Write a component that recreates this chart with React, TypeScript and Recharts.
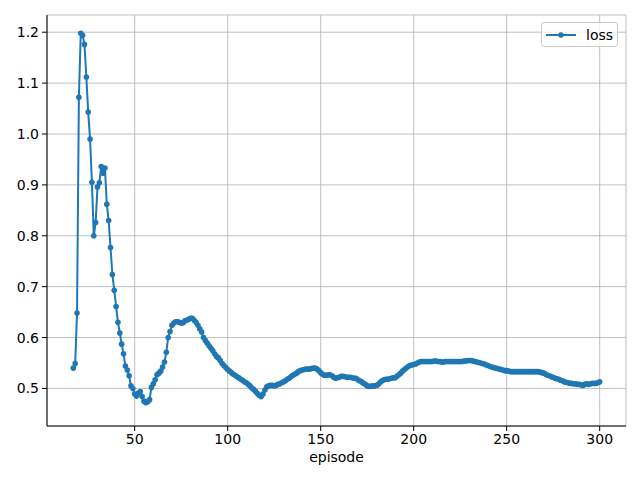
import React from "react";
import {
  CartesianGrid,
  Label,
  Line,
  LineChart,
  XAxis,
  YAxis,
} from "recharts";

// episodes 17..300, one loss value each
const FIRST_EPISODE = 17;
const loss = [
  0.54, 0.549, 0.648, 1.072, 1.198, 1.194, 1.176, 1.112, 1.043, 0.99,
  0.905, 0.8, 0.826, 0.896, 0.904, 0.936, 0.923, 0.933, 0.862, 0.83,
  0.777, 0.724, 0.693, 0.661, 0.63, 0.609, 0.587, 0.568, 0.544, 0.536,
  0.525, 0.505, 0.5, 0.489, 0.485, 0.491, 0.494, 0.484, 0.475, 0.472,
  0.474, 0.478, 0.502, 0.509, 0.517, 0.527, 0.53, 0.534, 0.542, 0.552,
  0.571, 0.6, 0.612, 0.624, 0.628, 0.631, 0.631, 0.63, 0.628, 0.629,
  0.633, 0.634, 0.636, 0.638, 0.638, 0.634, 0.63, 0.624, 0.617, 0.611,
  0.6, 0.594, 0.589, 0.584, 0.579, 0.574, 0.568, 0.563, 0.56, 0.555,
  0.549, 0.545, 0.541, 0.537, 0.534, 0.531, 0.528, 0.526, 0.523, 0.521,
  0.518, 0.516, 0.513, 0.511, 0.508, 0.505, 0.501, 0.498, 0.494, 0.49,
  0.486, 0.484, 0.489, 0.497, 0.503, 0.505, 0.506, 0.506, 0.505, 0.506,
  0.508, 0.509, 0.511, 0.513, 0.515, 0.518, 0.52, 0.523, 0.526, 0.528,
  0.53, 0.533, 0.535, 0.536, 0.537, 0.538, 0.538, 0.538, 0.539, 0.54,
  0.54, 0.538, 0.535, 0.531, 0.528, 0.526, 0.526, 0.527, 0.527, 0.525,
  0.522, 0.52, 0.521, 0.522, 0.524, 0.524, 0.523, 0.522, 0.522, 0.522,
  0.521, 0.52, 0.52, 0.517, 0.515, 0.513, 0.51, 0.508, 0.505, 0.504,
  0.504, 0.505, 0.505, 0.506, 0.508, 0.512, 0.515, 0.517, 0.518, 0.518,
  0.519, 0.52, 0.521, 0.521, 0.524, 0.527, 0.53, 0.534, 0.537, 0.54,
  0.543, 0.545, 0.546, 0.547, 0.548, 0.55, 0.552, 0.553, 0.553, 0.553,
  0.553, 0.553, 0.553, 0.553, 0.554, 0.554, 0.553, 0.553, 0.552, 0.552,
  0.553, 0.553, 0.553, 0.553, 0.553, 0.553, 0.553, 0.553, 0.553, 0.553,
  0.554, 0.554, 0.555, 0.555, 0.555, 0.554, 0.553, 0.552, 0.551, 0.55,
  0.549, 0.548, 0.546, 0.545, 0.543, 0.542, 0.541, 0.54, 0.539, 0.538,
  0.537, 0.536, 0.535, 0.535, 0.534, 0.533, 0.533, 0.533, 0.533, 0.533,
  0.533, 0.533, 0.533, 0.533, 0.533, 0.533, 0.533, 0.533, 0.533, 0.533,
  0.533, 0.532, 0.531, 0.53, 0.528, 0.526, 0.525, 0.523, 0.522, 0.52,
  0.519, 0.518, 0.516, 0.515, 0.513, 0.512, 0.511, 0.51, 0.51, 0.509,
  0.509, 0.508, 0.508, 0.507, 0.506, 0.508, 0.509, 0.508, 0.509, 0.51,
  0.51, 0.51, 0.511, 0.513,
];

const xTicks = [50, 100, 150, 200, 250, 300];
const yTicks = [0.5, 0.6, 0.7, 0.8, 0.9, 1.0, 1.1, 1.2];

const data = loss.map((v, i) => ({ episode: FIRST_EPISODE + i, loss: v }));

const BLUE = "#1f77b4";
const FONT = "DejaVu Sans, sans-serif";
const X_DOMAIN = [2.85, 314.15];
const Y_DOMAIN = [0.4262, 1.2338];

const LegendBox = () => (
  <div
    style={{
      position: "absolute",
      left: 541,
      top: 22,
      width: 75,
      height: 23,
      border: "1px solid #cccccc",
      borderRadius: 3,
      background: "rgba(255,255,255,0.8)",
      fontFamily: FONT,
      fontSize: 14,
      display: "flex",
      alignItems: "center",
    }}
  >
    <svg width={40} height={10} style={{ marginLeft: 4 }}>
      <line x1={0} y1={5} x2={30} y2={5} stroke={BLUE} strokeWidth={2} />
      <circle cx={15} cy={5} r={2.8} fill={BLUE} />
    </svg>
    <span style={{ color: "#000" }}>loss</span>
  </div>
);

export default function App() {
  return (
    <div style={{ position: "relative", width: 640, height: 480, background: "#fff" }}>
      <style>{"body{margin:0}"}</style>
      <LineChart
        width={640}
        height={480}
        data={data}
        margin={{ top: 15, right: 14, left: 0, bottom: 0 }}
        style={{ fontFamily: FONT }}
      >
        <CartesianGrid stroke="#b0b0b0" strokeWidth={0.8} />
        <XAxis
          dataKey="episode"
          type="number"
          domain={X_DOMAIN}
          ticks={xTicks}
          allowDataOverflow
          height={54}
          stroke="#000"
          tickSize={5}
          tickMargin={3}
          tick={{ fill: "#000", fontSize: 14 }}
        >
          <Label
            value="episode"
            position="insideBottom"
            offset={18}
            style={{ fill: "#000", fontSize: 14 }}
          />
        </XAxis>
        <XAxis
          xAxisId="top"
          orientation="top"
          dataKey="episode"
          type="number"
          domain={X_DOMAIN}
          tick={false}
          tickLine={false}
          height={0}
          stroke="#000"
        />
        <YAxis
          type="number"
          domain={Y_DOMAIN}
          ticks={yTicks}
          allowDataOverflow
          width={47}
          stroke="#000"
          tickSize={5}
          tickMargin={3}
          tickFormatter={(v: number) => v.toFixed(1)}
          tick={{ fill: "#000", fontSize: 14 }}
        />
        <YAxis
          yAxisId="right"
          orientation="right"
          type="number"
          domain={Y_DOMAIN}
          tick={false}
          tickLine={false}
          width={0}
          stroke="#000"
        />
        <Line
          dataKey="loss"
          name="loss"
          stroke={BLUE}
          strokeWidth={2}
          dot={{ r: 2.8, fill: BLUE, stroke: "none" }}
          activeDot={false}
          isAnimationActive={false}
        />
      </LineChart>
      <LegendBox />
    </div>
  );
}
